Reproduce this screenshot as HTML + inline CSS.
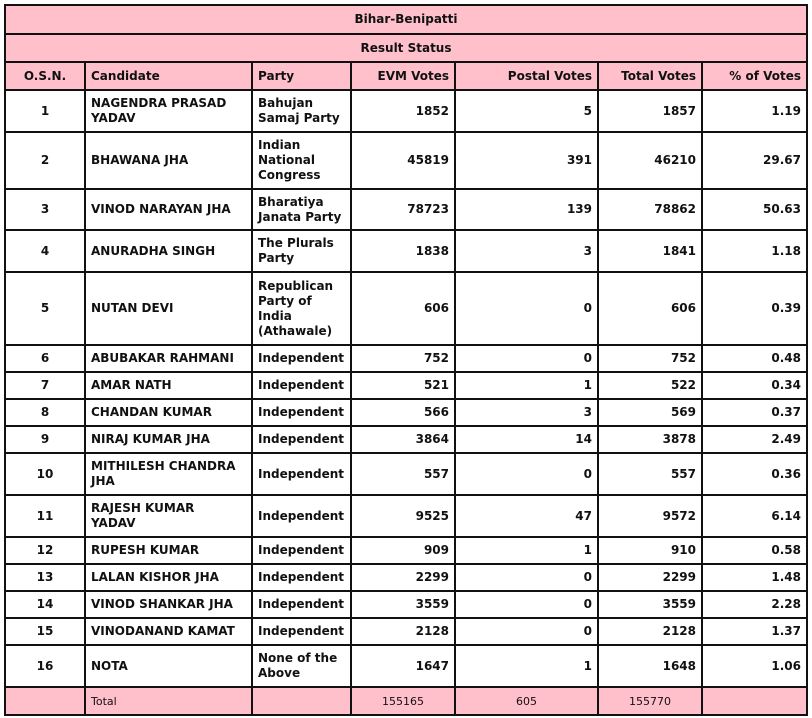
<!DOCTYPE html>
<html><head><meta charset="utf-8">
<style>
body{margin:0;width:812px;height:718px;background:#fff;position:relative;overflow:hidden;font-family:"DejaVu Sans","Liberation Sans",sans-serif;}
.c{position:absolute;box-sizing:border-box;border:2px solid #111;display:flex;align-items:center;font-size:12px;font-weight:bold;line-height:15px;color:#111;padding:0 5px;}
.t{padding-right:10px;}
.p{background:#FFC0CB;}
.ctr{justify-content:center;text-align:center;}
.r{justify-content:flex-end;text-align:right;}
.f{font-weight:normal;font-size:11px;}
</style></head><body>
<script>
const osn=[1,2,3,4,5,6,7,8,9,10,11,12,13,14,15,16];
const candidates=["NAGENDRA PRASAD YADAV","BHAWANA JHA","VINOD NARAYAN JHA","ANURADHA SINGH","NUTAN DEVI","ABUBAKAR RAHMANI","AMAR NATH","CHANDAN KUMAR","NIRAJ KUMAR JHA","MITHILESH CHANDRA JHA","RAJESH KUMAR YADAV","RUPESH KUMAR","LALAN KISHOR JHA","VINOD SHANKAR JHA","VINODANAND KAMAT","NOTA"];
const parties=["Bahujan Samaj Party","Indian National Congress","Bharatiya Janata Party","The Plurals Party","Republican Party of India (Athawale)","Independent","Independent","Independent","Independent","Independent","Independent","Independent","Independent","Independent","Independent","None of the Above"];
const evm=[1852,45819,78723,1838,606,752,521,566,3864,557,9525,909,2299,3559,2128,1647];
const postal=[5,391,139,3,0,0,1,3,14,0,47,1,0,0,0,1];
const total=[1857,46210,78862,1841,606,752,522,569,3878,557,9572,910,2299,3559,2128,1648];
const pct=["1.19","29.67","50.63","1.18","0.39","0.48","0.34","0.37","2.49","0.36","6.14","0.58","1.48","2.28","1.37","1.06"];
const headers=["O.S.N.","Candidate","Party","EVM Votes","Postal Votes","Total Votes","% of Votes"];
const totals=["","Total","","155165","605","155770",""];
const colX=[4,84,251,350,454,597,701,806];
const rowY=[4,33,61,89,131,188,229,271,344,371,398,425,452,494,536,563,590,617,644,686,714];
const align=["ctr","t","","r","r","r","r"];
function cell(x0,x1,y0,y1,txt,cls,name){
 const d=document.createElement('div');
 d.className='c '+cls;
 d.style.left=x0+'px';d.style.top=y0+'px';
 d.style.width=(x1-x0+2)+'px';d.style.height=(y1-y0+2)+'px';
 d.textContent=txt;
 
 
 document.body.appendChild(d);
}
cell(colX[0],colX[7],rowY[0],rowY[1],"Bihar-Benipatti","p ctr","table-title");
cell(colX[0],colX[7],rowY[1],rowY[2],"Result Status","p ctr","table-subtitle");
headers.forEach((h,i)=>cell(colX[i],colX[i+1],rowY[2],rowY[3],h,"p "+(i==0?"ctr":(i>=3?"r":"")),"header-"+i));
for(let r=0;r<osn.length;r++){
 const vals=[osn[r],candidates[r],parties[r],evm[r],postal[r],total[r],pct[r]];
 vals.forEach((v,i)=>cell(colX[i],colX[i+1],rowY[r+3],rowY[r+4],String(v),align[i],"row-"+(r+1)+"-col-"+i));
}
const tr=rowY.length-2;
totals.forEach((v,i)=>cell(colX[i],colX[i+1],rowY[tr],rowY[tr+1],v,"p f"+(i>=3&&i<=5?" ctr":""),"total-col-"+i));
</script>
</body></html>
